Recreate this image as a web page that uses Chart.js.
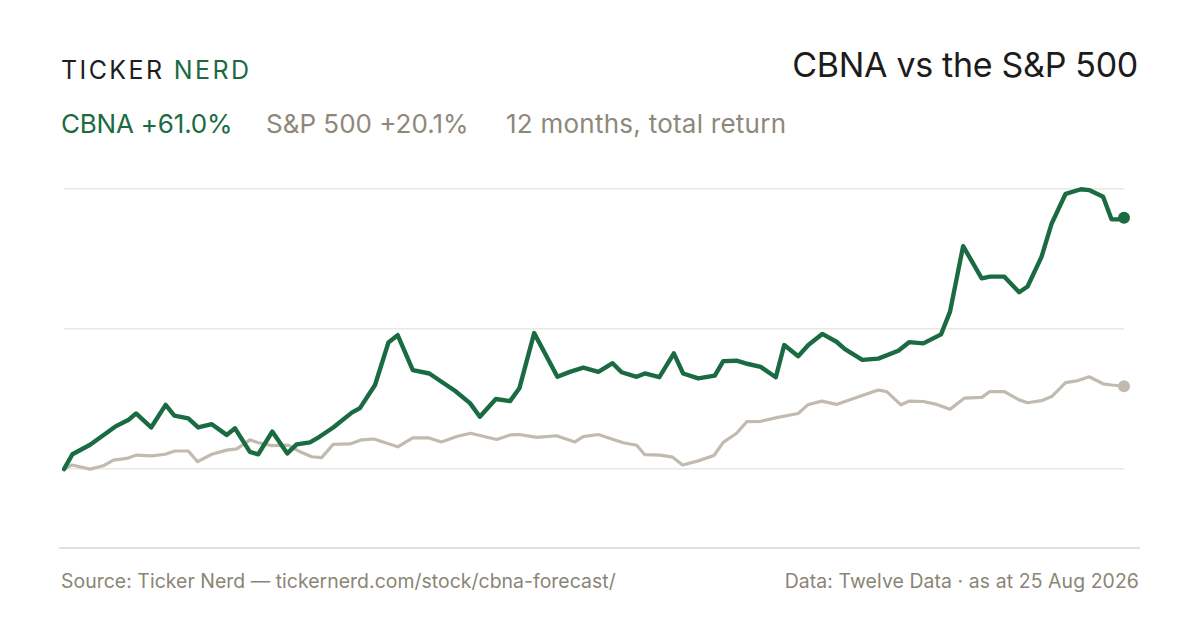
<!DOCTYPE html>
<html>
<head>
<meta charset="utf-8">
<script src="https://cdn.jsdelivr.net/npm/chart.js@4.4.1/dist/chart.umd.min.js"></script>
<style>
  html, body { margin:0; padding:0; background:#ffffff; }
  body { width:1200px; height:630px; position:relative; overflow:hidden; font-family:"Inter","Noto Sans",sans-serif; }
  .abs { position:absolute; white-space:nowrap; line-height:1; }
  #logo { left:61px; top:57.5px; font-size:25px; letter-spacing:2.4px; color:#1e1e1e; font-weight:400; }
  #logo span { color:#1b6b42; }
  #title { right:62px; top:48px; font-size:34px; color:#1c1c1c; letter-spacing:-0.3px; }
  #sub { left:61px; top:110.5px; font-size:26px; color:#8e887a; width:900px; height:30px; }
  #sub .g { color:#1b6b42; letter-spacing:-0.2px; }
  #sub .s2 { position:absolute; left:205px; top:0; }
  #sub .s3 { position:absolute; left:445px; top:0; letter-spacing:0.25px; }
  #rule { left:59px; top:547px; width:1081px; height:2px; background:#e4e1d9; }
  #src { left:61px; top:571.5px; font-size:19.4px; color:#8a8576; letter-spacing:0.05px; }
  #data { right:61px; top:571.5px; font-size:19.4px; color:#8a8576; letter-spacing:0.1px; }
  #wrap { position:absolute; left:54px; top:150px; width:1080px; height:400px; }
</style>
</head>
<body>
<div class="abs" id="logo">TICKER<span> NERD</span></div>
<div class="abs" id="title">CBNA vs the S&amp;P 500</div>
<div class="abs" id="sub"><span class="g">CBNA +61.0%</span><span class="s2">S&amp;P 500 +20.1%</span><span class="s3">12 months, total return</span></div>
<div class="abs" id="rule"></div>
<div class="abs" id="src">Source: Ticker Nerd — tickernerd.com/stock/cbna-forecast/</div>
<div class="abs" id="data">Data: Twelve Data · as at 25 Aug 2026</div>
<div id="wrap"><canvas id="c" width="1080" height="400"></canvas></div>
<script>
// Day offsets (0 = 12 months ago, 365 = 25 Aug 2026) and cumulative total return, %
const cbnaDays = [0,2.9,9.0,17.6,22.1,24.8,30.0,35.0,38.0,42.8,46.2,50.9,56.0,58.9,64.0,66.9,71.7,76.9,80.1,84.7,88.1,92.7,99.1,101.9,107.1,111.7,114.9,120.1,125.8,130.0,134.6,139.8,143.2,148.7,153.6,156.8,161.9,169.9,174.2,178.8,184.0,188.9,192.0,197.2,200.0,205.0,210.0,213.2,218.4,224.1,227.0,231.6,235.6,239.9,245.1,248.0,252.8,256.3,261.1,266.0,268.9,274.9,280.4,287.3,291.0,295.9,302.0,305.1,309.6,316.0,318.8,323.8,328.9,331.8,336.6,340.1,344.9,350.2,353.0,357.8,360.7,363.0,365];
const cbnaReturn = [0,3.6,5.9,10.3,11.9,13.5,10.1,15.6,13.0,12.3,10.1,10.9,8.3,9.9,4.2,3.6,9.1,3.8,6.0,6.5,7.9,10.1,13.7,14.8,20.4,30.7,32.5,24.0,23.2,21.2,19.0,16.0,12.7,17.0,16.5,19.6,33.0,22.4,23.6,24.6,23.6,25.7,23.5,22.4,23.2,22.3,28.1,23.2,22.0,22.7,26.2,26.3,25.5,24.8,22.3,30.1,27.4,30.1,32.8,30.9,29.1,26.5,26.8,28.7,30.8,30.5,32.7,38.2,54.1,46.3,46.7,46.7,42.9,44.3,51.5,59.6,66.8,67.9,67.7,66.1,60.6,60.6,61.0];
const spxDays = [0,2.7,9.0,13.5,17.0,21.6,25.0,30.2,34.8,38.2,42.8,46.0,50.9,56.0,59.5,64.0,66.9,71.5,77.2,81.3,85.3,88.7,92.7,98.5,102.5,106.7,114.9,120.1,125.4,130.0,135.2,140.0,149.0,153.6,156.8,162.8,169.6,175.9,178.8,184.0,188.6,192.6,197.2,200.0,205.2,209.6,213.0,218.4,223.8,227.0,231.6,235.1,239.9,245.4,252.8,256.1,260.9,266.0,274.1,280.4,283.3,288.2,291.0,295.9,300.5,305.1,310.0,316.0,318.8,323.8,328.9,331.8,336.6,340.1,344.9,348.7,353.0,357.8,360.7,365];
const spxReturn = [0,1.0,0.0,0.8,2.2,2.6,3.4,3.2,3.6,4.4,4.4,1.8,3.6,4.6,4.9,7.1,6.4,5.7,5.8,4.2,3.0,2.8,6.0,6.1,7.1,7.3,5.4,7.6,7.6,6.6,7.9,8.7,7.2,8.3,8.4,7.7,8.1,6.6,7.9,8.4,7.3,6.4,5.8,3.5,3.4,2.9,1.0,2.0,3.3,6.5,8.7,11.5,11.6,12.5,13.5,15.6,16.5,15.7,17.7,19.2,18.8,15.6,16.5,16.4,15.7,14.5,17.2,17.4,18.8,18.8,16.8,16.1,16.6,17.6,21.0,21.4,22.4,20.7,20.4,20.1];
const gridValues = [0, 34, 68];

const GREEN = '#1b6b42';
const GREY = '#c1bab0';

function pts(xs, ys) { return xs.map((x, i) => ({ x: x, y: ys[i] })); }
function lastOnly(n, r) { return Array.from({ length: n }, (_, i) => i === n - 1 ? r : 0); }

new Chart(document.getElementById('c'), {
  type: 'line',
  data: {
    datasets: [
      {
        label: 'CBNA',
        data: pts(cbnaDays, cbnaReturn),
        borderColor: GREEN,
        backgroundColor: GREEN,
        borderWidth: 4.4,
        pointRadius: lastOnly(cbnaDays.length, 6),
        pointHoverRadius: 0,
        pointBorderWidth: 0,
        tension: 0,
        borderJoinStyle: 'round',
        borderCapStyle: 'round',
        clip: false,
        order: 1
      },
      {
        label: 'S&P 500',
        data: pts(spxDays, spxReturn),
        borderColor: GREY,
        backgroundColor: GREY,
        borderWidth: 3.2,
        pointRadius: lastOnly(spxDays.length, 6),
        pointHoverRadius: 0,
        pointBorderWidth: 0,
        tension: 0,
        borderJoinStyle: 'round',
        borderCapStyle: 'round',
        clip: false,
        order: 2
      }
    ]
  },
  options: {
    responsive: false,
    maintainAspectRatio: false,
    animation: false,
    devicePixelRatio: 1,
    layout: { padding: { left: 10, right: 10, top: 10, bottom: 10 }, autoPadding: false },
    plugins: { legend: { display: false }, tooltip: { enabled: false } },
    scales: {
      x: { type: 'linear', min: 0, max: 365, display: false },
      y: {
        type: 'linear',
        min: -17.2,
        max: 75,
        afterBuildTicks: (axis) => { axis.ticks = gridValues.map(v => ({ value: v })); },
        ticks: { display: false },
        border: { display: false },
        grid: { color: '#ebe8e2', lineWidth: 1.5, drawTicks: false }
      }
    }
  }
});
</script>
</body>
</html>
